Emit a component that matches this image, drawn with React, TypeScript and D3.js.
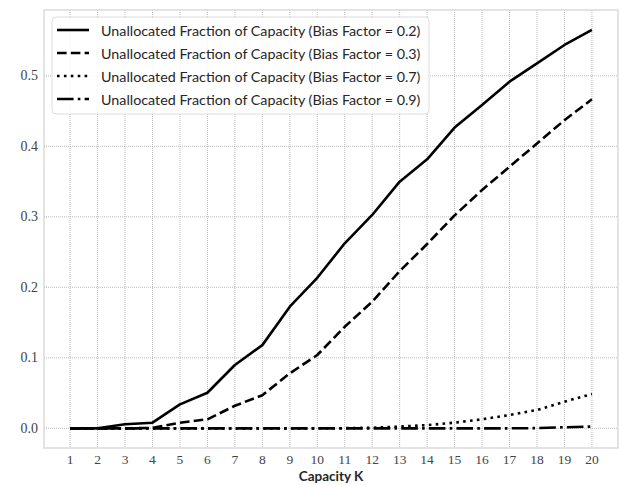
import React from "react";
import * as d3 from "d3";

const capacities = [1, 2, 3, 4, 5, 6, 7, 8, 9, 10, 11, 12, 13, 14, 15, 16, 17, 18, 19, 20];
const bias02 = [0, 0, 0.0057, 0.008, 0.034, 0.0505, 0.0898, 0.118, 0.1725, 0.2135, 0.2624, 0.3026, 0.3498, 0.3815, 0.4265, 0.4586, 0.4917, 0.5177, 0.5437, 0.565];
const bias03 = [0, 0, 0, 0.0005, 0.008, 0.0128, 0.032, 0.047, 0.078, 0.104, 0.144, 0.1796, 0.223, 0.2614, 0.302, 0.338, 0.371, 0.404, 0.437, 0.4667];
const bias07 = [0, 0, 0, 0, 0, 0, 0, 0, 0, 0, 0.0002, 0.0008, 0.0025, 0.0045, 0.008, 0.0128, 0.0189, 0.026, 0.0378, 0.0487];
const bias09 = [0, 0, 0, 0, 0, 0, 0, 0, 0, 0, 0, 0, 0, 0, 0, 0, 0, 0.0003, 0.0015, 0.0025];
const seriesLabels = [
  "Unallocated Fraction of Capacity (Bias Factor = 0.2)",
  "Unallocated Fraction of Capacity (Bias Factor = 0.3)",
  "Unallocated Fraction of Capacity (Bias Factor = 0.7)",
  "Unallocated Fraction of Capacity (Bias Factor = 0.9)",
];
const yTicks = [0.0, 0.1, 0.2, 0.3, 0.4, 0.5];
const xLabel = "Capacity K";

const LW = 2.6;
const dashes = ["", "9.6 4.2", "2.6 4.3", "16.6 4.2 2.6 4.2"];
const SERIF = "Liberation Serif, DejaVu Serif, serif";
const SANS = "Lato, DejaVu Sans, sans-serif";

export default function App() {
  const W = 619, H = 485;
  const left = 44, right = 618, top = 10, bottom = 448;
  const x = d3.scaleLinear().domain([0.05, 20.95]).range([left, right]);
  const y = d3.scaleLinear().domain([-0.0279, 0.5933]).range([bottom, top]);
  const all = [bias02, bias03, bias07, bias09];
  const line = d3
    .line<number>()
    .x((_, i) => x(capacities[i]))
    .y((d) => y(d));

  return (
    <svg width={W} height={H} style={{ position: "absolute", left: 0, top: 0, background: "#fff" }}>
      {capacities.map((c) => (
        <line key={"gx" + c} x1={x(c)} x2={x(c)} y1={top} y2={bottom} stroke="#aaaaaa" strokeWidth={0.8} strokeDasharray="1 1" />
      ))}
      {yTicks.map((t) => (
        <line key={"gy" + t} x1={left} x2={right} y1={y(t)} y2={y(t)} stroke="#aaaaaa" strokeWidth={0.8} strokeDasharray="1 1" />
      ))}
      <rect x={left} y={top} width={right - left} height={bottom - top} fill="none" stroke="#d4d4d4" strokeWidth={1.3} />
      {all.map((s, i) => (
        <path key={"l" + i} d={line(s) || ""} fill="none" stroke="#000" strokeWidth={LW} strokeDasharray={dashes[i]} strokeLinejoin="round" />
      ))}
      {yTicks.map((t) => (
        <text key={"ty" + t} x={left - 6} y={y(t)} textAnchor="end" dominantBaseline="central" style={{ fontFamily: SERIF }} fontSize={14} fill="#444">
          {t.toFixed(1)}
        </text>
      ))}
      {capacities.map((c) => (
        <text key={"tx" + c} x={x(c)} y={bottom + 11} textAnchor="middle" dominantBaseline="central" style={{ fontFamily: SERIF }} fontSize={13.5} fill="#444">
          {c}
        </text>
      ))}
      <text x={(left + right) / 2} y={476} textAnchor="middle" dominantBaseline="central" style={{ fontFamily: SANS }} fontWeight="bold" fontSize={13.5} fill="#262626">
        {xLabel}
      </text>
      <rect x={52} y={17} width={377} height={97} rx={4} fill="#fff" fillOpacity={0.85} stroke="#dcdcdc" strokeWidth={1} />
      {seriesLabels.map((lab, i) => {
        const ly = 30 + i * 23;
        return (
          <g key={"lg" + i}>
            <line x1={57} x2={89} y1={ly} y2={ly} stroke="#000" strokeWidth={LW} strokeDasharray={dashes[i]} />
            <text x={101} y={ly} dominantBaseline="central" style={{ fontFamily: SANS }} fontSize={14.3} fill="#262626">
              {lab}
            </text>
          </g>
        );
      })}
    </svg>
  );
}
